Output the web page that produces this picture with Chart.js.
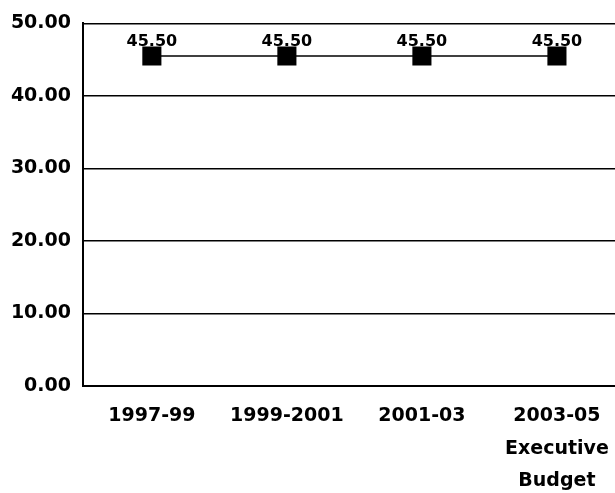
<!DOCTYPE html>
<html>
<head>
<meta charset="utf-8">
<script src="https://cdn.jsdelivr.net/npm/chart.js@4/dist/chart.umd.min.js"></script>
<style>
  html, body { margin:0; padding:0; background:#fff; }
  #chart { display:block; }
</style>
</head>
<body>
<canvas id="chart" width="615" height="493"></canvas>
<script>
// ---- DATA ----
const periods = ['1997-99', '1999-2001', '2001-03', ['2003-05', 'Executive', 'Budget']];
const values = [45.50, 45.50, 45.50, 45.50];
const yTicks = [0, 10, 20, 30, 40, 50];

const FONT = '"DejaVu Sans", sans-serif';
const INK = '#000';

// value labels above each point
const pointLabels = {
  id: 'pointLabels',
  afterDatasetsDraw(chart) {
    const ctx = chart.ctx;
    const meta = chart.getDatasetMeta(0);
    ctx.save();
    ctx.font = 'bold 16px ' + FONT;
    ctx.fillStyle = INK;
    ctx.textAlign = 'center';
    ctx.textBaseline = 'middle';
    meta.data.forEach((pt, i) => {
      ctx.fillText(values[i].toFixed(2), pt.x, pt.y - 14);
    });
    ctx.restore();
  }
};

new Chart(document.getElementById('chart'), {
  type: 'line',
  data: {
    datasets: [{
      data: values.map((v, i) => ({ x: i, y: v })),
      borderColor: INK,
      borderWidth: 1.5,
      pointStyle: 'rect',
      pointRadius: 13.5,
      pointBackgroundColor: INK,
      pointBorderColor: INK,
      pointBorderWidth: 0,
      tension: 0
    }]
  },
  options: {
    responsive: false,
    animation: false,
    layout: { autoPadding: false, padding: { top: 22, right: 0, bottom: 0, left: 0 } },
    plugins: { legend: { display: false }, tooltip: { enabled: false } },
    scales: {
      x: {
        type: 'linear',
        min: -0.51,
        max: 3.43,
        afterBuildTicks: s => { s.ticks = periods.map((p, i) => ({ value: i })); },
        afterFit: s => { s.height = 107; s.paddingLeft = 0; s.paddingRight = 0; },
        grid: { display: false, drawTicks: false },
        border: { display: true, color: INK, width: 2 },
        ticks: {
          color: INK,
          padding: 14,
          maxRotation: 0,
          autoSkip: false,
          font: { family: FONT, size: 19, weight: 'bold', lineHeight: 1.71 },
          callback: v => periods[v]
        }
      },
      y: {
        min: 0,
        max: 50,
        afterBuildTicks: s => { s.ticks = yTicks.map(v => ({ value: v })); },
        afterFit: s => { s.width = 83; },
        grid: { color: INK, lineWidth: 1.5, drawTicks: false },
        border: { display: true, color: INK, width: 2 },
        ticks: {
          color: INK,
          padding: 12,
          font: { family: FONT, size: 19, weight: 'bold' },
          callback: v => v.toFixed(2)
        }
      }
    }
  },
  plugins: [pointLabels]
});
</script>
</body>
</html>
